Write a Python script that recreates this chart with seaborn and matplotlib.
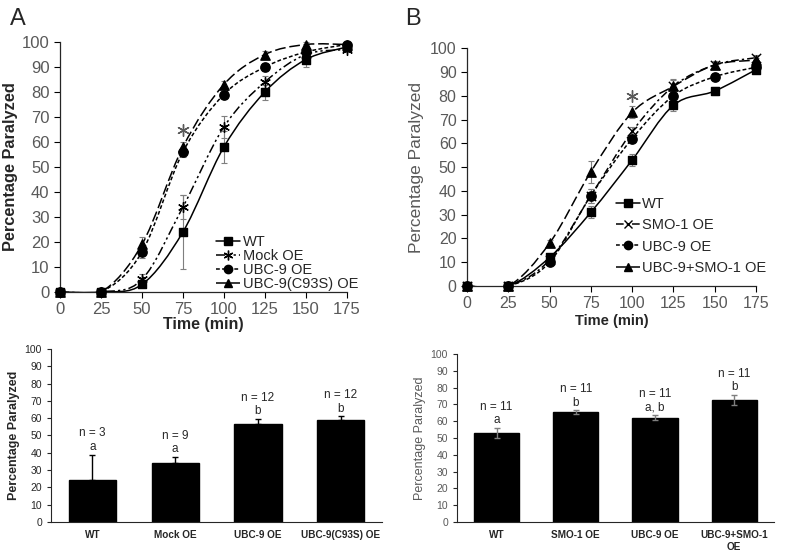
import numpy as np
import pandas as pd
import seaborn as sns
import matplotlib
matplotlib.use("Agg")
import matplotlib.pyplot as plt
from matplotlib.path import Path
from matplotlib.patches import PathPatch
from matplotlib.lines import Line2D

# Datos
tiempos = [0, 25, 50, 75, 100, 125, 150, 175]

# Panel A (curvas)
a_series = ["WT", "Mock OE", "UBC-9 OE", "UBC-9(C93S) OE"]
a_wt = [0, 0, 3, 24, 58, 80, 93, 98]
a_mock = [0, 0, 5, 34, 66, 84, 95, 97]
a_ubc9 = [0, 0, 16, 56, 79, 90, 96, 99]
a_c93s = [0, 0, 19, 58, 83, 95, 99, 99]
a_wt_err = [0, 0, 1, 15, 6.5, 3, 3, 1]
a_mock_err = [0, 0, 2, 5, 4.5, 2.5, 2, 1]
a_ubc9_err = [0, 0, 2.5, 2, 1.5, 1.5, 1.5, 1]
a_c93s_err = [0, 0, 3, 2, 1.5, 1.5, 1, 1]
a_asterisco = (75, 65)

# Panel B (curvas)
b_series = ["WT", "SMO-1 OE", "UBC-9 OE", "UBC-9+SMO-1 OE"]
b_wt = [0, 0, 12, 31, 53, 76, 82, 91]
b_smo1 = [0, 0, 11, 38, 65, 84, 93, 96]
b_ubc9 = [0, 0, 10, 38, 62, 80, 88, 92]
b_combo = [0, 0, 18, 48, 73, 84, 93, 95]
b_wt_err = [0, 0, 1.5, 2.5, 2.5, 2.5, 1.5, 1]
b_smo1_err = [0, 0, 1, 3, 2, 2.5, 1.5, 1]
b_ubc9_err = [0, 0, 1, 3, 1.5, 2, 1.5, 1]
b_combo_err = [0, 0, 1.5, 4.5, 2.5, 3, 1, 1]
b_asterisco = (100, 80)

# Barras
a_bar_labels = ["WT", "Mock OE", "UBC-9 OE", "UBC-9(C93S) OE"]
a_bar_vals = [24, 34, 56.5, 59]
a_bar_err = [15, 3.5, 3, 2]
a_bar_n = ["n = 3", "n = 9", "n = 12", "n = 12"]
a_bar_sig = ["a", "a", "b", "b"]

b_bar_labels = ["WT", "SMO-1 OE", "UBC-9 OE", "UBC-9+SMO-1\nOE"]
b_bar_vals = [53, 65.5, 62, 72.5]
b_bar_err = [3, 1, 1.5, 3]
b_bar_n = ["n = 11", "n = 11", "n = 11", "n = 11"]
b_bar_sig = ["a", "b", "a, b", "b"]

sns.set_style("ticks")
plt.rcParams['font.family'] = ['Liberation Sans', 'DejaVu Sans']

GRIS = "#595959"


def curva_suave(ax, x, y, **kw):
    """Dibuja una curva suavizada (Bezier tipo Catmull-Rom) a través de los puntos"""
    p = np.column_stack([x, y]).astype(float)
    n = len(p)
    verts = [p[0]]
    codes = [Path.MOVETO]
    for i in range(n - 1):
        p0 = p[i - 1] if i > 0 else p[i]
        p3 = p[i + 2] if i + 2 < n else p[i + 1]
        c1 = p[i] + (p[i + 1] - p0) / 6
        c2 = p[i + 1] - (p3 - p[i]) / 6
        verts += [c1, c2, p[i + 1]]
        codes += [Path.CURVE4] * 3
    patch = PathPatch(Path(verts, codes), fill=False, transform=ax.transData, **kw)
    ax.add_patch(patch)


def panel_curvas(ax, nombres, ys, errs, marcadores, estilos, tam, ticksize):
    for nombre, y, e, m, ls, s in zip(nombres, ys, errs, marcadores, estilos, tam):
        curva_suave(ax, tiempos, y, edgecolor="black", linewidth=1.1, linestyle=ls, zorder=2)
        ax.errorbar(tiempos, y, yerr=e, fmt="none", ecolor="#7f7f7f", elinewidth=0.8,
                    capsize=2, capthick=0.8, zorder=3, clip_on=False)
        df = pd.DataFrame({"t": tiempos, "v": y})
        sns.scatterplot(data=df, x="t", y="v", ax=ax, marker=m, s=s, color="black",
                        edgecolor="black", linewidth=1.0, zorder=4, clip_on=False, legend=False)
    ax.set_xlim(0, 175)
    ax.set_ylim(0, 100)
    ax.set_xticks(tiempos)
    ax.set_yticks(range(0, 101, 10))
    ax.tick_params(axis="both", labelsize=ticksize, colors="black", labelcolor=GRIS,
                   length=4, width=0.8, direction="out")
    for sp in ["top", "right"]:
        ax.spines[sp].set_visible(False)
    for sp in ["left", "bottom"]:
        ax.spines[sp].set_linewidth(0.9)
    handles = [Line2D([], [], color="black", linestyle=ls, marker=m, markersize=6 if m != (6, 2, 0) else 7,
                      linewidth=1.1, markeredgewidth=1.0)
               for m, ls in zip(marcadores, estilos)]
    return handles


fig = plt.figure(figsize=(7.92, 5.53), dpi=100)

# Panel A curvas
axA = fig.add_axes([0.0758, 0.472, 0.362, 0.452])
marcA = ["s", (6, 2, 0), "o", "^"]
estA = ["-", (0, (6, 2, 1.5, 2, 1.5, 2)), (0, (2.5, 1.5)), (0, (7, 2.5))]
hA = panel_curvas(axA, a_series, [a_wt, a_mock, a_ubc9, a_c93s],
                  [a_wt_err, a_mock_err, a_ubc9_err, a_c93s_err], marcA, estA, [36, 50, 45, 45], 12)
axA.scatter([a_asterisco[0]], [a_asterisco[1]], marker=(6, 2, 0), s=70, color=GRIS, linewidths=1.0, zorder=5)
axA.set_xlabel("Time (min)", fontsize=11.5, fontweight="bold", labelpad=0)
axA.set_ylabel("Percentage Paralyzed", fontsize=11.8, fontweight="bold", labelpad=3)
axA.legend(hA, a_series, loc="lower right", bbox_to_anchor=(1.07, -0.03), frameon=False,
           fontsize=10.5, handlelength=1.7, handletextpad=0.15, labelspacing=0.0, borderaxespad=0.2)
fig.text(0.012, 0.965, "A", fontsize=17, va="center")

# Panel B curvas
axB = fig.add_axes([0.5896, 0.4828, 0.365, 0.430])
marcB = ["s", "x", "o", "^"]
estB = ["-", (0, (5, 2, 1.5, 2)), (0, (2.5, 1.5)), (0, (7, 2.5))]
hB = panel_curvas(axB, b_series, [b_wt, b_smo1, b_ubc9, b_combo],
                  [b_wt_err, b_smo1_err, b_ubc9_err, b_combo_err], marcB, estB, [36, 45, 45, 45], 11.5)
axB.scatter([b_asterisco[0]], [b_asterisco[1]], marker=(6, 2, 0), s=70, color=GRIS, linewidths=1.0, zorder=5)
axB.set_xlabel("Time (min)", fontsize=10.5, fontweight="bold", labelpad=2)
axB.set_ylabel("Percentage Paralyzed", fontsize=12.5, color=GRIS, labelpad=4)
axB.legend(hB, b_series, loc="lower right", bbox_to_anchor=(1.065, 0.01), frameon=False,
           fontsize=10.5, handlelength=1.6, handletextpad=0.15, labelspacing=0.5, borderaxespad=0.2)
fig.text(0.512, 0.965, "B", fontsize=17, va="center")


def panel_barras(ax, etiquetas, vals, errs, ns, sig, ambos, color_err, color_ticks, ylab_kw):
    df = pd.DataFrame({"grupo": etiquetas, "valor": vals})
    sns.barplot(data=df, x="grupo", y="valor", ax=ax, color="black", width=0.57,
                saturation=1, edgecolor="black", errorbar=None)
    pos = np.arange(len(vals))
    if ambos:
        ax.errorbar(pos, vals, yerr=errs, fmt="none", ecolor=color_err, elinewidth=1.0,
                    capsize=2, capthick=1.0)
    else:
        ax.errorbar(pos, vals, yerr=[np.zeros(len(errs)), errs], fmt="none", ecolor="black",
                    elinewidth=1.0, capsize=2, capthick=1.0)
    for x, v, e, n, s in zip(pos, vals, errs, ns, sig):
        ax.text(x, v + e + 1, n + "\n" + s, ha="center", va="bottom", fontsize=8.5,
                linespacing=1.15)
    ax.set_ylim(0, 100)
    ax.set_xlim(-0.5, len(vals) - 0.5)
    ax.set_yticks(range(0, 101, 10))
    ax.tick_params(axis="y", labelsize=7.5, labelcolor=color_ticks, length=3, width=0.8)
    ax.tick_params(axis="x", labelsize=7.2, length=0, pad=6)
    for lab in ax.get_xticklabels():
        lab.set_fontweight("bold")
    ax.set_xlabel("")
    ax.set_ylabel("Percentage Paralyzed", **ylab_kw)
    for sp in ["top", "right"]:
        ax.spines[sp].set_visible(False)


axC = fig.add_axes([0.0644, 0.056, 0.418, 0.313])
panel_barras(axC, a_bar_labels, a_bar_vals, a_bar_err, a_bar_n, a_bar_sig, False, "black", "#262626",
             dict(fontsize=9, fontweight="bold", labelpad=3))

axD = fig.add_axes([0.577, 0.056, 0.400, 0.304])
panel_barras(axD, b_bar_labels, b_bar_vals, b_bar_err, b_bar_n, b_bar_sig, True, "#7f7f7f", GRIS,
             dict(fontsize=9, color=GRIS, labelpad=3))

plt.savefig("out.png", dpi=100)
plt.close()
